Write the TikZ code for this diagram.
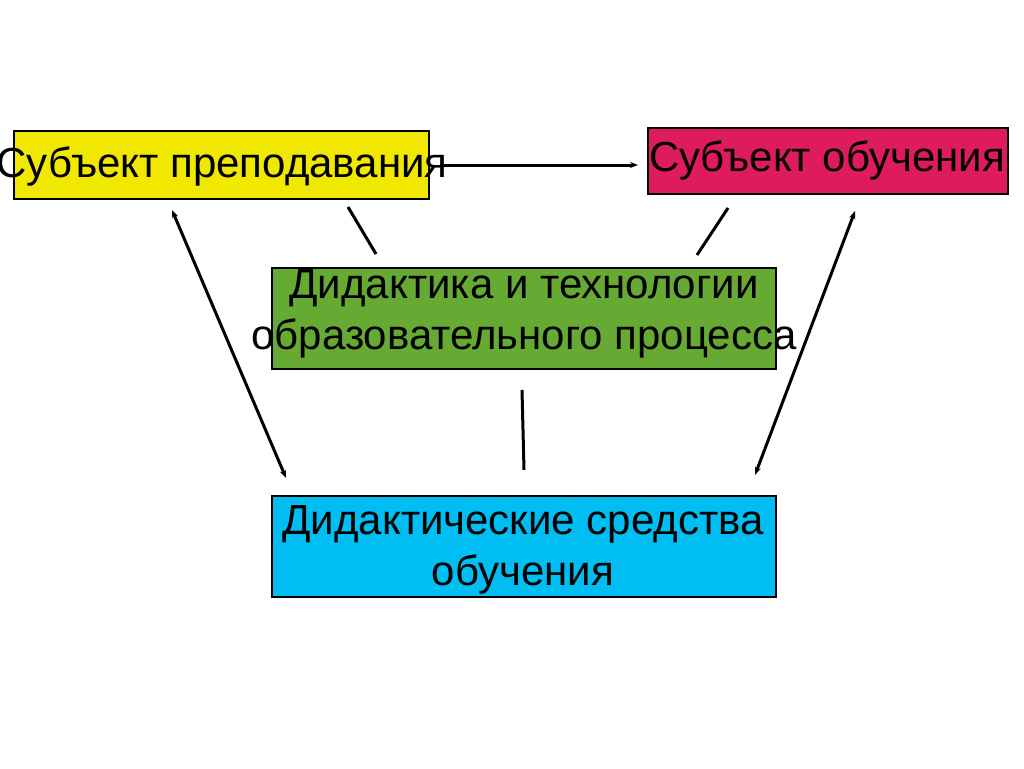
\documentclass[tikz,border=0pt]{standalone}
\usepackage{fontspec}
\setmainfont{Liberation Sans}
\usetikzlibrary{arrows.meta}
\definecolor{cyel}{RGB}{240,232,0}
\definecolor{cmag}{RGB}{222,28,92}
\definecolor{cgrn}{RGB}{102,170,51}
\definecolor{cblu}{RGB}{0,190,242}
\tikzset{
  box/.style={draw=black, line width=1.5pt, inner sep=0pt, minimum width=#1},
  txt/.style={inner sep=0pt, font=\fontsize{42}{51}\selectfont, align=center},
  conn/.style={line width=3pt, draw=black},
  tip/.style={-{Stealth[length=8pt,width=6pt]}},
  tips/.style={{Stealth[length=8pt,width=6pt]}-{Stealth[length=8pt,width=6pt]}}
}
\begin{document}
\begin{tikzpicture}[x=1pt,y=-1pt]
\useasboundingbox[fill=white] (0,0) rectangle (1024,768);
% boxes
\node[box=415pt, minimum height=68pt, fill=cyel] (yb) at (221.5,165) {};
\node[box=360pt, minimum height=66pt, fill=cmag] (mb) at (828,161) {};
\node[box=504pt, minimum height=101pt, fill=cgrn] (gb) at (524,318.5) {};
\node[box=504pt, minimum height=101pt, fill=cblu] (bb) at (524,546.5) {};
% texts
\node[txt] (yt) at (222,166) {Субъект преподавания};
\node[txt] (mt) at (827,160) {Субъект обучения};
\node[txt] (gt) at (524,314) {Дидактика и технологии\\образовательного процесса};
\node[txt] (bt) at (523,550) {Дидактические средства\\обучения};
% connector end points
\coordinate (h1) at (440,165);
\coordinate (h2) at (638,165);
\coordinate (a1) at (348,207);
\coordinate (a2) at (376,254);
\coordinate (b1) at (728,208);
\coordinate (b2) at (697,255);
\coordinate (c1) at (522,390);
\coordinate (c2) at (524,470);
\coordinate (l1) at (172,210);
\coordinate (l2) at (286,478);
\coordinate (r1) at (855,211);
\coordinate (r2) at (755,475);
% connectors
\draw[conn, tip] (h1) -- (h2);
\draw[conn] (a1) -- (a2);
\draw[conn] (b1) -- (b2);
\draw[conn] (c1) -- (c2);
\draw[conn, tips] (l1) -- (l2);
\draw[conn, tips] (r1) -- (r2);
\end{tikzpicture}
\end{document}
